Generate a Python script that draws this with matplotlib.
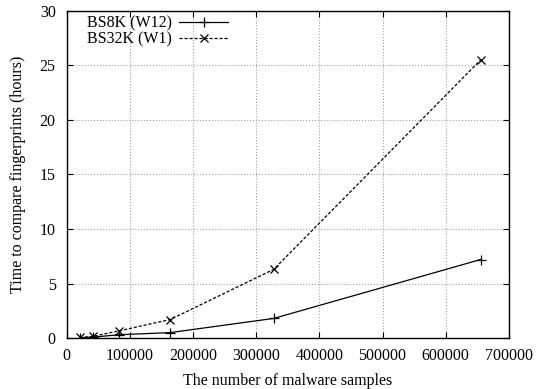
import matplotlib
matplotlib.use("Agg")
import matplotlib.pyplot as plt

plt.rcParams['font.family'] = ['Liberation Serif', 'DejaVu Serif']

samples = [20480, 40960, 81920, 163840, 327680, 655360]
bs8k_w12 = [0.03, 0.08, 0.3, 0.5, 1.8, 7.2]
bs32k_w1 = [0.05, 0.15, 0.65, 1.7, 6.3, 25.5]

fs = 11.5

fig = plt.figure(figsize=(5.39, 3.89), dpi=100)
ax = fig.add_axes([0.124, 0.131, 0.82, 0.841])

ax.plot(samples, bs8k_w12, color='black', lw=0.9, marker='+', ms=7,
        mew=0.9, label='BS8K (W12)')
ax.plot(samples, bs32k_w1, color='black', lw=0.9, ls=(0, (2.5, 1.5)),
        marker='x', ms=6, mew=0.9, label='BS32K (W1)')

ax.set_xlim(0, 700000)
ax.set_ylim(0, 30)
ax.set_xticks(range(0, 700001, 100000))
ax.set_yticks(range(0, 31, 5))
ax.tick_params(direction='in', top=True, right=True, labelsize=fs,
               length=4, width=0.8)
ax.tick_params(axis='x', pad=7)
ax.tick_params(axis='y', pad=8)
ax.grid(True, color='#a0a0a0', ls=':', lw=0.8)
for s in ax.spines.values():
    s.set_linewidth(1.0)

ax.set_xlabel('The number of malware samples', fontsize=fs, labelpad=7)
ax.set_ylabel('Time to compare fingerprints (hours)', fontsize=fs, labelpad=10)

# gnuplot-style key: text first, sample line after
leg = ax.legend(loc='upper left', bbox_to_anchor=(0.045, 0.985),
                markerfirst=False, frameon=False, fontsize=fs,
                handlelength=3.1, borderaxespad=0, borderpad=0,
                labelspacing=0.0, handletextpad=0.45)

fig.savefig('out.png', dpi=100)
